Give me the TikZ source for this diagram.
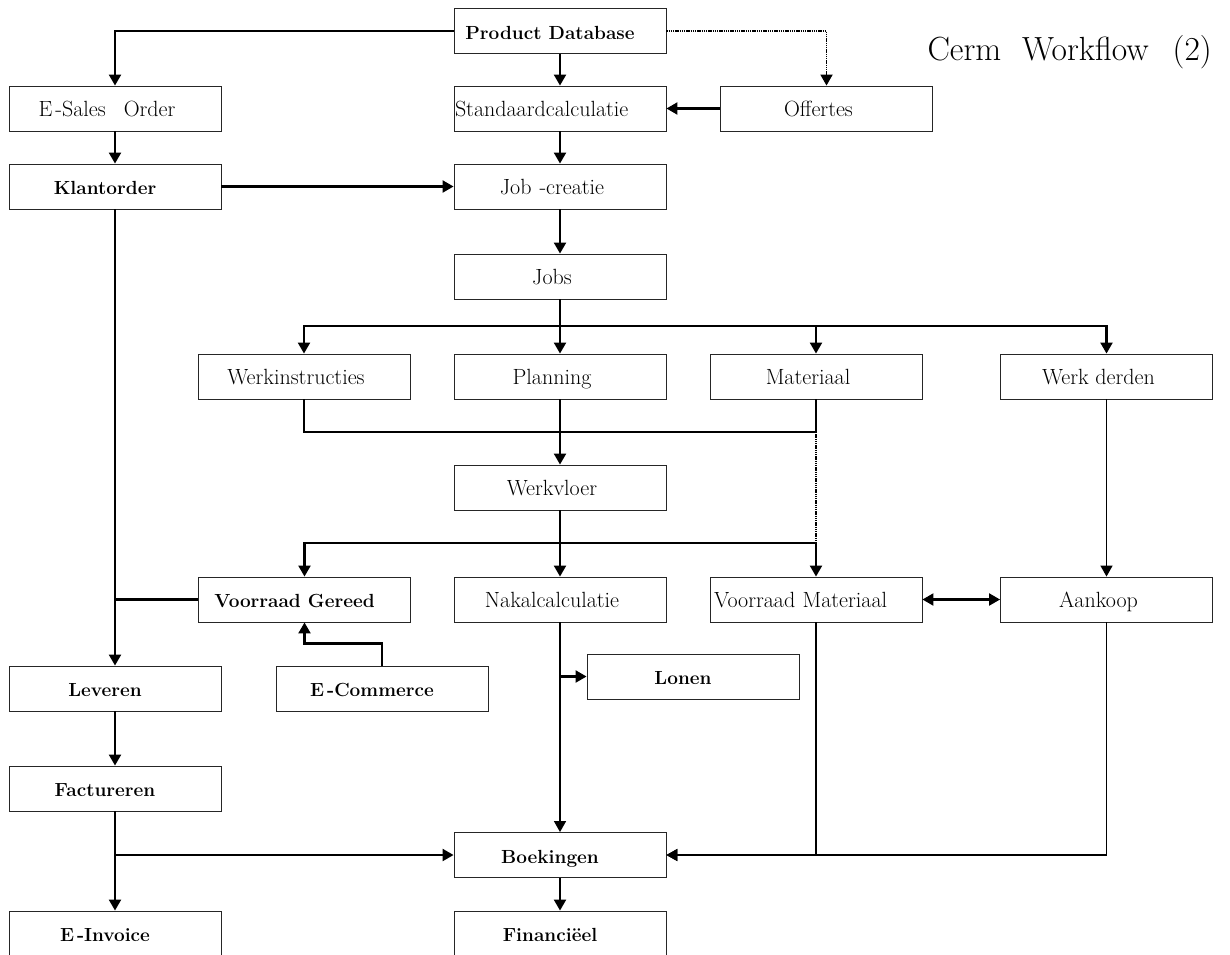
\documentclass[tikz,border=0pt]{standalone}
\usepackage{fontspec}
\usetikzlibrary{arrows.meta}
\begin{document}
\begin{tikzpicture}[x=1pt,y=-1pt,
  boxbase/.style={draw=black!85, line width=0.9pt, minimum width=212pt,
    minimum height=45pt, inner sep=0pt, text height=16pt, text depth=0pt},
  box/.style={boxbase, font=\fontsize{22}{26}\selectfont,
    execute at end node={\hspace*{16pt}}},
  boldbox/.style={boxbase, font=\bfseries\fontsize{19}{23}\selectfont,
    execute at end node={\hspace*{20pt}}},
  leftbox/.style={boxbase, font=\fontsize{22}{26}\selectfont,
    text width=210pt, align=left, inner xsep=1pt},
  conn/.style={line width=2.2pt, draw=black},
  thinconn/.style={line width=1.5pt, draw=black},
  dotconn/.style={line width=1.8pt, draw=black, dash pattern=on 1.4pt off 0.8pt},
  arrowed/.style={-{Triangle[length=11pt,width=12pt]}},
  twoway/.style={{Triangle[length=11pt,width=12pt]}-{Triangle[length=11pt,width=12pt]}}
]
\fill[white] (0,0) rectangle (1230,954);
\useasboundingbox (0,0) rectangle (1230,954);

% boxes
\node[boldbox] (pd)     at (560,31)    {Product Database};
\node[box]     (esales) at (115,108.5) {E\hspace{3pt}-Sales\hspace{18pt}Order};
\node[leftbox] (std)    at (560,108.5) {Standaardcalculatie};
\node[box]     (off)    at (826.5,108.5) {Offertes};
\node[boldbox] (klant)  at (115,186.5) {Klantorder};
\node[box]     (jobc)   at (560,186.5) {Job\hspace{8pt}-creatie};
\node[box]     (jobs)   at (560,276.5) {Jobs};
\node[box]     (werk)   at (304,376.5) {Werkinstructies};
\node[box]     (plan)   at (560,376.5) {Planning};
\node[box]     (mat)    at (816,376.5) {Materiaal};
\node[box]     (derden) at (1106.5,376.5) {Werk derden};
\node[box]     (vloer)  at (560,487.5) {Werkvloer};
\node[boldbox] (vg)     at (304.5,599.5) {Voorraad Gereed};
\node[box]     (nak)    at (560,599.5) {Nakalcalculatie};
\node[leftbox] (vm)     at (816,599.5) {\hspace*{3pt}Voorraad Materiaal};
\node[box]     (aank)   at (1106.5,599.5) {Aankoop};
\node[boldbox] (lonen)  at (693,676.5) {Lonen};
\node[boldbox] (ecom)   at (382,688.5) {E\hspace{3pt}-Commerce};
\node[boldbox] (lev)    at (115,688.5) {Leveren};
\node[boldbox] (fact)   at (115,788.5) {Factureren};
\node[boldbox] (boek)   at (560,855)   {Boekingen};
\node[boldbox] (einv)   at (115,933.5) {E\hspace{3pt}-Invoice};
\node[boldbox] (fin)    at (560,933.5) {Financiëel};

\node[anchor=base west, font=\fontsize{33.5}{40}\selectfont] (title) at (924,60)
  {Cerm\hspace{21pt}Workflow\hspace{24pt}(2)};

% junction points
\coordinate (jb) at (560,326);
\coordinate (wm) at (560,432);
\coordinate (vb) at (560,543);

% connectors
\draw[conn,arrowed] (pd.west) -| (esales.north);
\draw[conn,arrowed] (pd.south) -- (std.north);
\draw[dotconn,arrowed] (pd.east) -| (off.north);
\draw[conn,arrowed] (off.west) -- (std.east);
\draw[conn,arrowed] (esales.south) -- (klant.north);
\draw[conn,arrowed] (std.south) -- (jobc.north);
\draw[conn,arrowed] (klant.east) -- (jobc.west);
\draw[conn,arrowed] (jobc.south) -- (jobs.north);

\draw[conn] (jobs.south) -- (jb);
\draw[conn,arrowed] (jb) -| (werk.north);
\draw[conn,arrowed] (jb) -- (plan.north);
\draw[conn,arrowed] (jb) -| (mat.north);
\draw[conn,arrowed] (jb) -| (derden.north);

\draw[conn] (werk.south) |- (wm);
\draw[conn] (mat.south) |- (wm);
\draw[conn,arrowed] (plan.south) -- (vloer.north);
\draw[dotconn] (mat.south |- wm) -- (mat.south |- vb);

\draw[conn] (vloer.south) -- (vb);
\draw[conn,arrowed] (vb) -| (vg.north);
\draw[conn,arrowed] (vb) -- (nak.north);
\draw[conn,arrowed] (vb) -| (vm.north);

\draw[conn] (vg.west) -- (klant.south |- vg.west);
\draw[conn,arrowed] (klant.south) -- (lev.north);
\draw[conn,arrowed] (ecom.north) -- ++(0,-22) -| (vg.south);

\draw[thinconn,arrowed] (nak.south) -- (boek.north);
\draw[conn,arrowed] (nak.south |- lonen.west) -- (lonen.west);

\draw[conn,twoway] (vm.east) -- (aank.west);
\draw[thinconn,arrowed] (derden.south) -- (aank.north);

\draw[conn,arrowed] (lev.south) -- (fact.north);
\draw[conn,arrowed] (fact.south) -- (einv.north);
\draw[conn,arrowed] (fact.south |- boek.west) -- (boek.west);
\draw[conn,arrowed] (boek.south) -- (fin.north);

\draw[thinconn,arrowed] (vm.south) |- (boek.east);
\draw[thinconn,arrowed] (aank.south) |- (boek.east);
\end{tikzpicture}
\end{document}
